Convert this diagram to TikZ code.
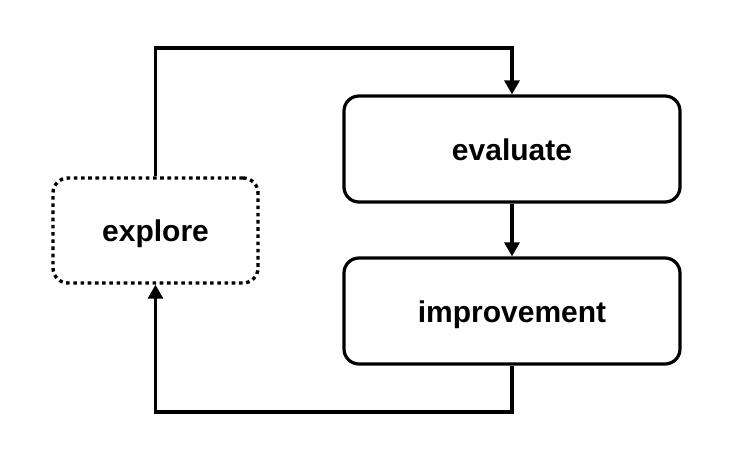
\documentclass[tikz,border=0pt]{standalone}
\usepackage{fontspec}
\setmainfont{Liberation Sans}
\usetikzlibrary{arrows.meta}
\begin{document}
\begin{tikzpicture}[x=1pt,y=-1pt,
  txt/.style={font=\fontsize{30}{36}\selectfont\bfseries,text height=22pt,text depth=0pt},
  box/.style={draw,line width=3.2pt,rounded corners=15pt,minimum width=336pt,minimum height=106pt,inner sep=0pt,txt},
  dotbox/.style={draw,line width=3.4pt,rounded corners=15pt,dash pattern=on 3.6pt off 3.6pt,minimum width=205pt,minimum height=105pt,inner sep=0pt,txt},
  conn/.style={line width=3.2pt,-{Triangle[width=15pt,length=14pt]}}]
\useasboundingbox (0,0) rectangle (736,460);
\node[box] (eval) at (512,149) {evaluate};
\node[box] (impr) at (512,311) {improvement};
\node[dotbox] (expl) at (155.5,230.5) {explore};
\coordinate (tl) at (155.5,48);
\coordinate (tr) at (512,48);
\coordinate (bl) at (155.5,412);
\coordinate (br) at (512,412);
\draw[conn] (expl.north) -- (tl) -- (tr) -- (eval.north);
\draw[conn] (eval.south) -- (impr.north);
\draw[conn] (impr.south) -- (br) -- (bl) -- (expl.south);
\end{tikzpicture}
\end{document}
